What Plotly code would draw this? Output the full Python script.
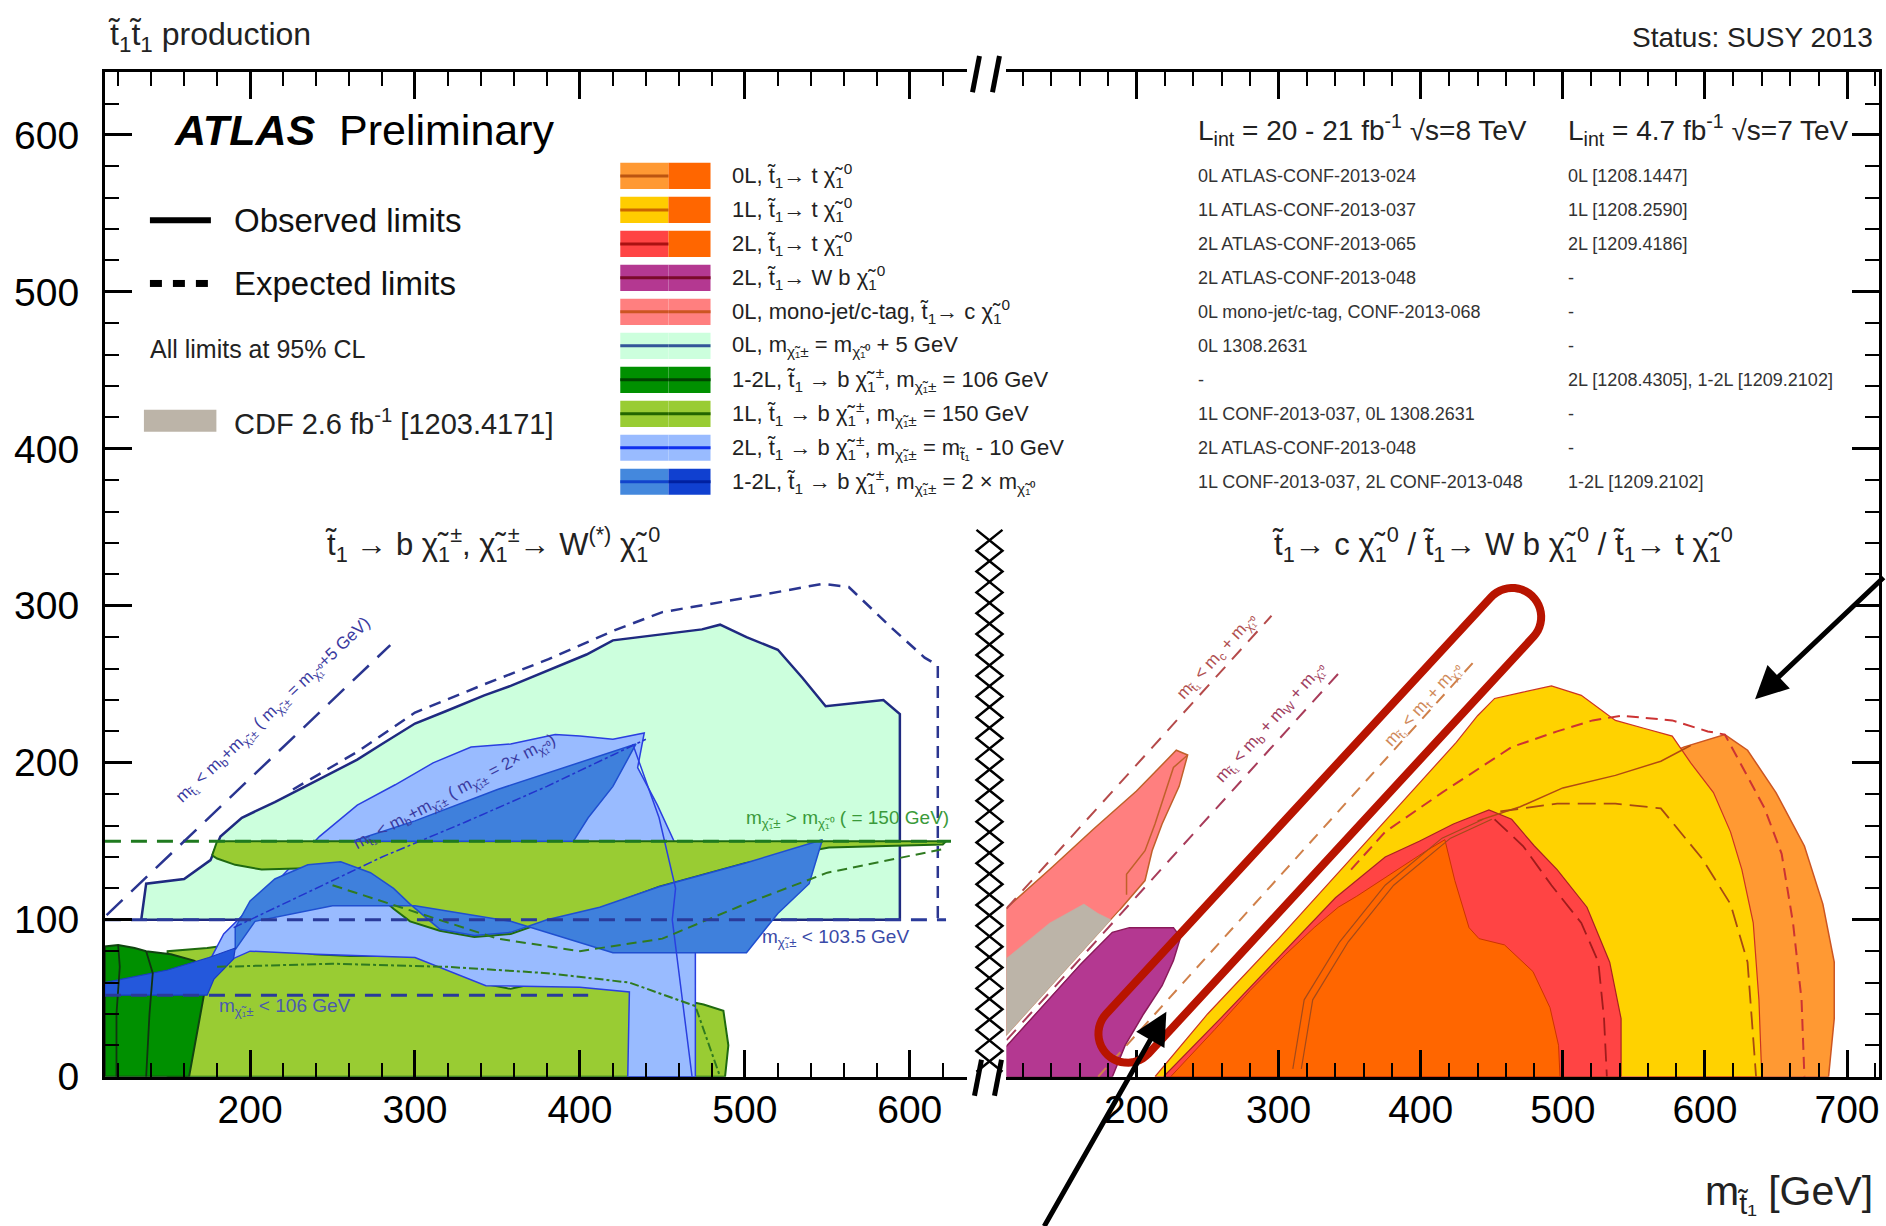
import numpy as np
import plotly.graph_objects as go

W, H = 1886, 1226
H_FIG = 1250          # drawing height of the figure
FONT = "Liberation Sans, Arial, Helvetica, sans-serif"

# ---------------------------------------------------------------- axes
y_range = [0, 640]
x_left_range = [112, 635]
x_right_range = [108.5, 722.5]
major_step = 100
minor_step = 20

# ---------------------------------------------------------------- left panel: t1 -> b chi1+-
# 0L, m(chi1+-) = m(chi1^0) + 5 GeV
zl_obs_x = [134, 137, 160, 176, 182, 195, 215, 230, 249, 265, 280, 300, 319, 342, 358, 381, 404, 420, 435, 474, 485, 501, 520, 535, 549, 584, 594, 594]
zl_obs_y = [100, 123, 126, 138, 153, 165, 175, 183, 193, 202, 212, 225, 233, 243, 249, 259, 269, 278, 280, 285, 288, 280, 272, 254, 236, 240, 231, 100]
zl_exp_x = [226, 265, 300, 342, 381, 420, 450, 500, 547, 563, 590, 609, 617, 617]
zl_exp_y = [183, 207, 232, 250, 266, 284, 296, 305, 314, 312, 285, 267, 262, 100]

# 1L, m(chi1+-) = 150 GeV (two excluded pieces)
l150_low_x = [150, 150, 174, 196, 217, 239, 261, 282, 304, 325, 343, 358, 380, 412, 448, 475, 487, 490, 488]
l150_low_y = [0, 80, 82, 85, 82, 78, 77, 77, 78, 73, 59, 56, 61, 59, 52, 46, 42, 20, 0]
l150_band_x = [177, 180, 250, 350, 450, 550, 622, 620, 551, 500, 448, 412, 380, 358, 336, 315, 297, 287, 273, 261, 239, 207, 191, 180]
l150_band_y = [141, 150, 150, 150, 150, 150, 150, 148, 146, 136, 121, 107, 99, 91, 89, 93, 99, 107, 120, 129, 133, 132, 135, 139]

# 2L, m(chi1+-) = m(t1) - 10 GeV
l2_obs_x = [172, 184, 215, 242, 265, 288, 311, 334, 358, 385, 400, 420, 439, 435, 447, 458, 466, 470, 470, 429, 430, 400, 343, 300, 240, 200]
l2_obs_y = [67, 91, 123, 153, 173, 186, 200, 210, 212, 218, 217, 215, 219, 197, 173, 148, 123, 99, 0, 0, 54, 57, 58, 76, 78, 80]

# 1-2L, m(chi1+-) = 2 x m(chi1^0)
l12_low_x = [191, 203, 250, 300, 358, 420, 501, 520, 539, 547, 500, 448, 412, 380, 358, 336, 315, 297, 287, 273, 255, 235, 215, 200, 191]
l12_low_y = [81, 99, 109, 109, 99, 79, 79, 104, 123, 151, 136, 121, 108, 100, 92, 90, 94, 110, 120, 130, 137, 135, 126, 112, 95]
l12_up_x = [262, 300, 350, 400, 434, 420, 405, 396]
l12_up_y = [150, 163, 183, 200, 212, 185, 165, 150]

# 1-2L, m(chi1+-) = 106 GeV
l106_x = [112, 112, 120, 130, 137, 152, 166, 174, 172, 168, 163]
l106_y = [0, 83, 84, 82, 80, 78, 74, 69, 52, 30, 0]
l106_line1_x = [119, 119, 121, 120]
l106_line1_y = [0, 40, 70, 84]
l106_line2_x = [137, 139, 141, 137]
l106_line2_y = [0, 40, 66, 80]
l12_tip_x = [112, 112, 150, 175, 191, 190, 178, 174]
l12_tip_y = [52, 60, 68, 76, 82, 75, 62, 52]

# extra contour lines
l12_exp_x = [190, 230, 280, 330, 380, 420, 440]
l12_exp_y = [95, 115, 140, 162, 185, 205, 215]
l12_edge_x = [432, 448, 458, 456, 462, 468]
l12_edge_y = [212, 165, 120, 100, 50, 0]
l150_exp_x = [180, 250, 320, 380, 430, 470, 485]
l150_exp_y = [70, 72, 70, 66, 60, 45, 0]
l150_exp2_x = [250, 300, 350, 400, 450, 500, 550, 620]
l150_exp2_y = [122, 105, 88, 80, 88, 110, 130, 145]

# reference lines in the left panel
chi_lep_limit = 103.5     # m(chi1+-) < 103.5 GeV
chi_106 = 52              # level of the m(chi1+-) < 106 GeV boundary drawn
chi_150 = 150             # m(chi1+-) = 150 GeV
kin_left_x = [113, 285]   # m(t1) < m(b) + m(chi1+-), m(chi1+-) = m(chi1^0) + 5 GeV
kin_left_y = [103, 275]

# ---------------------------------------------------------------- right panel: t1 -> c / Wb / t chi1^0
r0l_x = [560, 585, 614, 630, 650, 670, 683, 691, 691, 687, 560]
r0l_y = [200, 210, 218, 208, 181, 147, 110, 73, 37, 0, 0]
r1l_x = [213, 250, 300, 350, 400, 425, 440, 452, 472, 492, 513, 537, 557, 577, 590, 606, 618, 626, 634, 638, 640]
r1l_y = [0, 40, 88, 138, 188, 213, 230, 241, 245, 249, 243, 227, 222, 217, 200, 181, 156, 132, 98, 49, 0]
r2l_x = [219, 260, 300, 340, 375, 399, 423, 448, 464, 480, 496, 517, 533, 541, 541]
r2l_y = [0, 38, 76, 114, 140, 150, 161, 170, 164, 147, 132, 108, 73, 37, 0]
r7tev_x = [224, 255, 280, 305, 325, 342, 355, 379, 404, 417, 424, 434, 441, 459, 479, 491, 497, 498]
r7tev_y = [0, 30, 55, 78, 95, 108, 115, 129, 144, 151, 125, 95, 88, 84, 67, 44, 20, 0]
rmono_x = [108, 108, 140, 170, 200, 228, 236, 230, 218, 211, 206, 195, 188]
rmono_y = [26, 107, 133, 158, 182, 208, 205, 185, 161, 144, 125, 113, 106]
rcdf_x = [108, 108, 139, 163, 173, 182]
rcdf_y = [26, 75, 98, 110, 104, 100]
rwb_x = [108, 108, 160, 183, 195, 226, 231, 226, 218, 205, 192, 183]
rwb_y = [0, 19, 71, 92, 95, 95, 89, 74, 58, 40, 20, 0]

r1l_exp_x = [351, 375, 415, 440, 464, 496, 521, 541, 577, 602, 614, 626, 642, 654, 662, 668, 670]
r1l_exp_y = [132, 156, 181, 196, 210, 220, 227, 230, 227, 220, 218, 198, 171, 142, 98, 49, 0]
r0l_obs_x = [440, 470, 500, 537, 569, 590]
r0l_obs_y = [163, 172, 184, 192, 201, 211]
r0l_exp_x = [456, 496, 537, 569, 598, 618, 630, 636]
r0l_exp_y = [169, 174, 174, 171, 139, 110, 73, 0]
r2l_exp_x = [452, 472, 492, 513, 525, 529, 531]
r2l_exp_y = [164, 147, 122, 98, 73, 37, 0]
r7_line_x = [310, 318, 343, 375, 415, 444]
r7_line_y = [5, 49, 86, 122, 152, 164]
rmono_obs_x = [193, 193, 206, 213, 226, 236]
rmono_obs_y = [116, 129, 144, 161, 197, 205]

# kinematic limits: m(t1) = m(X) + m(chi1^0)
m_c, m_bw, m_t = 1.3, 85.2, 173.0
kin_c_x = [108.5, 295]
kin_bw_x = [108.5, 345]
kin_t_x = [173, 440]

# ---------------------------------------------------------------- legend content
legend_labels = [
    "0L, t̃<sub>1</sub>→ t χ̃<sub>1</sub><sup>0</sup>",
    "1L, t̃<sub>1</sub>→ t χ̃<sub>1</sub><sup>0</sup>",
    "2L, t̃<sub>1</sub>→ t χ̃<sub>1</sub><sup>0</sup>",
    "2L, t̃<sub>1</sub>→ W b χ̃<sub>1</sub><sup>0</sup>",
    "0L, mono-jet/c-tag, t̃<sub>1</sub>→ c χ̃<sub>1</sub><sup>0</sup>",
    "0L, m<sub>χ̃₁±</sub> = m<sub>χ̃₁⁰</sub> + 5 GeV",
    "1-2L, t̃<sub>1</sub> → b χ̃<sub>1</sub><sup>±</sup>, m<sub>χ̃₁±</sub> = 106 GeV",
    "1L, t̃<sub>1</sub> → b χ̃<sub>1</sub><sup>±</sup>, m<sub>χ̃₁±</sub> = 150 GeV",
    "2L, t̃<sub>1</sub> → b χ̃<sub>1</sub><sup>±</sup>, m<sub>χ̃₁±</sub> = m<sub>t̃₁</sub> - 10 GeV",
    "1-2L, t̃<sub>1</sub> → b χ̃<sub>1</sub><sup>±</sup>, m<sub>χ̃₁±</sub> = 2 × m<sub>χ̃₁⁰</sub>",
]
legend_left_colors = ["#ff9933", "#ffcc00", "#ff4444", "#b43891", "#ff7f7f", "#ccffdd", "#009000", "#99cc33", "#99bbff", "#4488dd"]
legend_right_colors = ["#ff6600", "#ff6600", "#ff6600", "#b43891", "#ff7f7f", "#ccffdd", "#009000", "#99cc33", "#99bbff", "#1040d0"]
legend_line_colors = ["#bb5511", "#cc6600", "#aa1111", "#7a0a2a", "#cc5522", "#335599", "#004400", "#226600", "#1030ee", "#1144cc"]
legend_right_lines = [None, None, None, "#7a0a2a", "#cc5522", "#335599", "#004400", "#226600", "#1030ee", "#0020a0"]
ref_8tev = ["0L ATLAS-CONF-2013-024", "1L ATLAS-CONF-2013-037", "2L ATLAS-CONF-2013-065",
            "2L ATLAS-CONF-2013-048", "0L mono-jet/c-tag, CONF-2013-068", "0L 1308.2631", "-",
            "1L CONF-2013-037, 0L 1308.2631", "2L ATLAS-CONF-2013-048",
            "1L CONF-2013-037, 2L CONF-2013-048"]
ref_7tev = ["0L [1208.1447]", "1L [1208.2590]", "2L [1209.4186]", "-", "-", "-",
            "2L [1208.4305], 1-2L [1209.2102]", "-", "-", "1-2L [1209.2102]"]

# ---------------------------------------------------------------- helpers
def px(x):
    return x / W

def py(y):
    return 1 - y / H

AX = {"left": ("x", "y"), "right": ("x2", "y2")}

def region(x, y, fill, line, width=1.5, side="left", dash="solid"):
    xa, ya = AX[side]
    return go.Scatter(x=list(x) + [x[0]], y=list(y) + [y[0]], fill="toself", fillcolor=fill,
                      mode="lines", line=dict(color=line, width=width, dash=dash),
                      xaxis=xa, yaxis=ya, hoverinfo="skip", showlegend=False)

def curve(x, y, color, width=1.5, dash="solid", side="left"):
    xa, ya = AX[side]
    return go.Scatter(x=x, y=y, mode="lines", line=dict(color=color, width=width, dash=dash),
                      xaxis=xa, yaxis=ya, hoverinfo="skip", showlegend=False)

fig = go.Figure()

# left panel fills (back to front)
fig.add_trace(region(zl_obs_x, zl_obs_y, "#ccffdd", "#1f2a80", 2.5))
fig.add_trace(region(l150_low_x, l150_low_y, "#99cc33", "#1f6a10", 2))
fig.add_trace(region(l2_obs_x, l2_obs_y, "#99bbff", "#2a3fe0", 1.5))
fig.add_trace(region(l150_band_x, l150_band_y, "#99cc33", "#1f6a10", 2))
fig.add_trace(region(l12_low_x, l12_low_y, "#3f80dc", "#1f4fd0", 1.5))
fig.add_trace(region(l12_up_x, l12_up_y, "#3f80dc", "#1f4fd0", 1.5))
fig.add_trace(region(l106_x, l106_y, "#009000", "#114411", 2))
fig.add_trace(region(l12_tip_x, l12_tip_y, "#2458dc", "#1a3cc0", 1.2))
fig.add_trace(curve(l106_line1_x, l106_line1_y, "#113311", 1.8))
fig.add_trace(curve(l106_line2_x, l106_line2_y, "#113311", 1.8))

# left panel contour lines
fig.add_trace(curve(zl_exp_x, zl_exp_y, "#2a3590", 2.5, "12px,8px"))
fig.add_trace(curve(l12_exp_x, l12_exp_y, "#2233cc", 1.5, "dashdot"))
fig.add_trace(curve(l12_edge_x, l12_edge_y, "#2a3fe0", 1.5))
fig.add_trace(curve(l150_exp_x, l150_exp_y, "#2f7a20", 2, "dashdot"))
fig.add_trace(curve(l150_exp2_x, l150_exp2_y, "#2f7a20", 2, "10px,6px"))
fig.add_trace(curve([x_left_range[0], 622], [chi_lep_limit - 3.5, chi_lep_limit - 3.5], "#2a3a9a", 3, "16px,10px"))
fig.add_trace(curve([x_left_range[0], 405], [chi_106, chi_106], "#2a3a9a", 3, "16px,10px"))
fig.add_trace(curve([x_left_range[0], 625], [chi_150, chi_150], "#1f7a1f", 3, "16px,10px"))
fig.add_trace(curve(kin_left_x, kin_left_y, "#2a3590", 2.5, "22px,12px"))

# right panel fills
fig.add_trace(region(r0l_x, r0l_y, "#ff9933", "#cc5522", 1.5, "right"))
fig.add_trace(region(r1l_x, r1l_y, "#ffd200", "#cc3322", 1.2, "right"))
fig.add_trace(region(r2l_x, r2l_y, "#ff4444", "#aa2222", 1.2, "right"))
fig.add_trace(region(r7tev_x, r7tev_y, "#ff6600", "#cc3300", 1.0, "right"))
fig.add_trace(region(rmono_x, rmono_y, "#ff7f7f", "#c0602a", 1.5, "right"))
fig.add_trace(region(rcdf_x, rcdf_y, "#bcb4a8", "#bcb4a8", 0.5, "right"))
fig.add_trace(region(rwb_x, rwb_y, "#b43891", "#8a1a5a", 1.5, "right"))

# right panel contour lines
fig.add_trace(curve(r1l_exp_x, r1l_exp_y, "#cc3333", 2, "12px,7px", "right"))
fig.add_trace(curve(r0l_obs_x, r0l_obs_y, "#b24a11", 1.5, "solid", "right"))
fig.add_trace(curve(r0l_exp_x, r0l_exp_y, "#a84a11", 1.8, "18px,8px", "right"))
fig.add_trace(curve(r2l_exp_x, r2l_exp_y, "#a01c1c", 1.8, "18px,8px", "right"))
fig.add_trace(curve(r7_line_x, r7_line_y, "#a34a1a", 1.2, "solid", "right"))
fig.add_trace(curve([v + 6 for v in r7_line_x], r7_line_y, "#a34a1a", 1.2, "solid", "right"))
fig.add_trace(curve(rmono_obs_x, rmono_obs_y, "#c0602a", 1.5, "solid", "right"))

# kinematic boundaries
kin_bw_y = [v - m_bw for v in kin_bw_x]
fig.add_trace(curve(kin_bw_x[:1] + [190], [kin_bw_y[0], 190 - m_bw], "white", 6, "solid", "right"))
fig.add_trace(curve(kin_c_x, [v - m_c for v in kin_c_x], "#b54a4a", 2, "14px,10px", "right"))
fig.add_trace(curve(kin_bw_x, kin_bw_y, "#a83c5a", 2, "14px,10px", "right"))
fig.add_trace(curve(kin_t_x, [v - m_t for v in kin_t_x], "#d0804a", 2, "12px,9px", "right"))

# ---------------------------------------------------------------- axes layout
tickfont = dict(family=FONT, size=39, color="black")
common_x = dict(showline=True, linecolor="black", linewidth=3, mirror="ticks", ticks="inside",
                ticklen=27, tickwidth=2.5, tickcolor="black", dtick=major_step, tick0=0,
                minor=dict(ticks="inside", ticklen=14, tickwidth=2, dtick=minor_step, tick0=0,
                           tickcolor="black"),
                showgrid=False, zeroline=False, tickfont=tickfont, ticklabelstandoff=-4)
common_y = dict(showline=True, linecolor="black", linewidth=3, ticks="inside", ticklen=27,
                tickwidth=2.5, tickcolor="black", dtick=major_step, tick0=0, range=y_range,
                minor=dict(ticks="inside", ticklen=14, tickwidth=2, dtick=minor_step, tick0=0,
                           tickcolor="black"),
                showgrid=False, zeroline=False, tickfont=tickfont)

fig.update_layout(
    width=W, height=H_FIG, autosize=False, margin=dict(l=0, r=0, t=0, b=0, pad=0),
    paper_bgcolor="white", plot_bgcolor="white", showlegend=False,
    xaxis=dict(domain=[px(105), px(968)], range=x_left_range, anchor="y", **common_x),
    xaxis2=dict(domain=[px(1007), px(1880)], range=x_right_range, anchor="y2", **common_x),
    yaxis=dict(domain=[py(1075), py(72)], anchor="x", side="left", ticklabelstandoff=15, **common_y),
    yaxis2=dict(domain=[py(1075), py(72)], anchor="x2", side="right", matches="y",
                showticklabels=False, **common_y),
)

shapes = []
ann = []

def text(x, y, s, size, color="#111", xanchor="left", angle=0, yanchor="middle"):
    ann.append(dict(x=px(x), y=py(y), xref="paper", yref="paper", text=s, showarrow=False,
                    xanchor=xanchor, yanchor=yanchor, textangle=angle,
                    font=dict(family=FONT, size=size, color=color)))

# axis break marks
for x0, y0 in [(980, 56), (1000, 56), (982, 1058), (1002, 1058)]:
    shapes.append(dict(type="line", xref="paper", yref="paper", x0=px(x0), y0=py(y0),
                       x1=px(x0 - 7), y1=py(y0 + 36), line=dict(color="black", width=5)))

# hatched gap between the panels
hx0, hx1, hy0, hy1, ncell = 977, 1003, 529, 1070, 26
hy = np.linspace(hy0, hy1, ncell + 1)
for start in (0, 1):
    pts = []
    for i, yy in enumerate(hy):
        xx = hx0 if (i + start) % 2 == 0 else hx1
        pts.append(f"{px(xx):.5f},{py(yy):.5f}")
    shapes.append(dict(type="path", xref="paper", yref="paper", path="M" + " L".join(pts),
                       line=dict(color="black", width=2.5)))

# rounded highlight frame along the t-chi1^0 kinematic boundary
c1 = np.array([1128.0, 1032.0])
c2 = np.array([1513.0, 616.0])
rad = 29.0
d = (c2 - c1) / np.linalg.norm(c2 - c1)
nrm = np.array([-d[1], d[0]])
base = np.arctan2(nrm[1], nrm[0])
arc2 = [c2 + rad * np.array([np.cos(base - t), np.sin(base - t)]) for t in np.linspace(0, np.pi, 25)]
arc1 = [c1 + rad * np.array([np.cos(base + np.pi - t), np.sin(base + np.pi - t)]) for t in np.linspace(0, np.pi, 25)]
loop = arc2 + arc1
path = "M" + " L".join(f"{px(p[0]):.5f},{py(p[1]):.5f}" for p in loop) + " Z"
shapes.append(dict(type="path", xref="paper", yref="paper", path=path,
                   line=dict(color="#b81400", width=8)))

# legend: line styles
shapes.append(dict(type="line", xref="paper", yref="paper", x0=px(150), y0=py(220), x1=px(211), y1=py(220),
                   line=dict(color="black", width=6)))
for k in range(3):
    shapes.append(dict(type="line", xref="paper", yref="paper", x0=px(150 + 23 * k), y0=py(283),
                       x1=px(162 + 23 * k), y1=py(283), line=dict(color="black", width=7)))
shapes.append(dict(type="rect", xref="paper", yref="paper", x0=px(144), y0=py(409), x1=px(216.5), y1=py(431),
                   fillcolor="#bcb4a8", line=dict(width=0)))

# legend: analysis boxes
row0, drow = 175.6, 33.94
bx0, bsplit, bx1, bh = 620.6, 668.8, 710.9, 26
for i in range(len(legend_labels)):
    yc = row0 + i * drow
    shapes.append(dict(type="rect", xref="paper", yref="paper", x0=px(bx0), x1=px(bsplit),
                       y0=py(yc - bh / 2), y1=py(yc + bh / 2), fillcolor=legend_left_colors[i], line=dict(width=0)))
    shapes.append(dict(type="rect", xref="paper", yref="paper", x0=px(bsplit), x1=px(bx1),
                       y0=py(yc - bh / 2), y1=py(yc + bh / 2), fillcolor=legend_right_colors[i], line=dict(width=0)))
    shapes.append(dict(type="line", xref="paper", yref="paper", x0=px(bx0), x1=px(bsplit), y0=py(yc), y1=py(yc),
                       line=dict(color=legend_line_colors[i], width=3)))
    if legend_right_lines[i]:
        shapes.append(dict(type="line", xref="paper", yref="paper", x0=px(bsplit), x1=px(bx1), y0=py(yc), y1=py(yc),
                           line=dict(color=legend_right_lines[i], width=3)))
    text(730, yc, legend_labels[i], 22, "#222")
    text(1197, yc, ref_8tev[i], 18, "#333")
    text(1567, yc, ref_7tev[i], 18, "#333")

# headings and labels
text(106, 36, "t̃<sub>1</sub>t̃<sub>1</sub> production", 32, "#222")
text(1876, 37, "Status: SUSY 2013", 28, "#222", xanchor="right")
text(172, 130, "<b><i>ATLAS</i></b>", 43, "black")
text(337, 130, "Preliminary", 43, "black")
text(232, 220, "Observed limits", 33, "#111")
text(232, 283, "Expected limits", 33, "#111")
text(148, 348, "All limits at 95% CL", 25, "#222")
text(232, 421, "CDF 2.6 fb<sup>-1</sup> [1203.4171]", 29, "#222")
text(1197, 130, "L<sub>int</sub> = 20 - 21 fb<sup>-1</sup> √s=8 TeV", 28, "#222")
text(1567, 130, "L<sub>int</sub> = 4.7 fb<sup>-1</sup> √s=7 TeV", 28, "#222")
text(493, 544, "t̃<sub>1</sub> → b χ̃<sub>1</sub><sup>±</sup>, χ̃<sub>1</sub><sup>±</sup>→ W<sup>(*)</sup> χ̃<sub>1</sub><sup>0</sup>",
     31, "#222", xanchor="center")
text(1503, 544, "t̃<sub>1</sub>→ c χ̃<sub>1</sub><sup>0</sup> / t̃<sub>1</sub>→ W b χ̃<sub>1</sub><sup>0</sup> / t̃<sub>1</sub>→ t χ̃<sub>1</sub><sup>0</sup>",
     31, "#222", xanchor="center")
text(1876, 1192, "m<sub>t̃₁</sub> [GeV]", 41, "#222", xanchor="right")

# labels on the boundaries
text(274, 710, "m<sub>t̃₁</sub> < m<sub>b</sub>+m<sub>χ̃₁±</sub> ( m<sub>χ̃₁±</sub> = m<sub>χ̃₁⁰</sub>+5 GeV)", 17, "#3a3aa0",
     xanchor="center", angle=-43.5)
text(455, 792, "m<sub>t̃₁</sub> < m<sub>b</sub>+m<sub>χ̃₁±</sub> ( m<sub>χ̃₁±</sub> = 2× m<sub>χ̃₁⁰</sub>)", 17, "#3a3aa0",
     xanchor="center", angle=-28)
text(848, 818, "m<sub>χ̃₁±</sub> > m<sub>χ̃₁⁰</sub> ( = 150 GeV)", 19, "#3a9a3a", xanchor="center")
text(836, 936, "m<sub>χ̃₁±</sub> < 103.5 GeV", 19, "#3a4aa8", xanchor="center")
text(285, 1005, "m<sub>χ̃₁±</sub> < 106 GeV", 19, "#4a5ab0", xanchor="center")
text(1218, 656, "m<sub>t̃₁</sub> < m<sub>c</sub> + m<sub>χ̃₁⁰</sub>", 17, "#b05050", xanchor="center", angle=-48)
text(1272, 722, "m<sub>t̃₁</sub> < m<sub>b</sub> + m<sub>W</sub> + m<sub>χ̃₁⁰</sub>", 17, "#a04060", xanchor="center", angle=-48)
text(1425, 704, "m<sub>t̃₁</sub> < m<sub>t</sub> + m<sub>χ̃₁⁰</sub>", 17, "#d08a5a", xanchor="center", angle=-48)

# pointer arrows
for tip, tail in [((1756, 698), (1886, 575)), ((1167, 1010), (1044, 1226))]:
    ann.append(dict(x=px(tip[0]), y=py(tip[1]), xref="paper", yref="paper", text="", showarrow=True,
                    ax=tail[0] - tip[0], ay=tail[1] - tip[1], axref="pixel", ayref="pixel",
                    arrowhead=2, arrowsize=1.3, arrowwidth=5, arrowcolor="black", standoff=0))

fig.update_layout(shapes=shapes, annotations=ann)
fig.write_html("out.html", config={"responsive": False, "displayModeBar": False})
